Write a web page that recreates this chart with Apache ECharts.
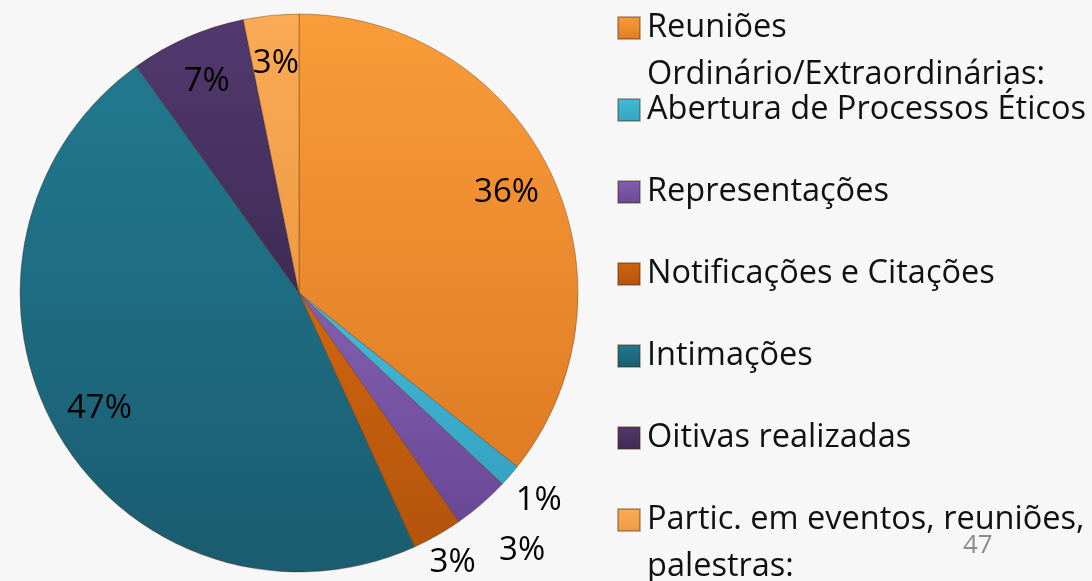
<!DOCTYPE html>
<html>
<head>
<meta charset="utf-8">
<title>Atividades</title>
<script src="https://cdn.jsdelivr.net/npm/echarts@6/dist/echarts.min.js"></script>
<style>
html,body{margin:0;padding:0;background:#f7f7f7;}
#main{width:1092px;height:581px;}
</style>
</head>
<body>
<div id="main"></div>
<script>
var categories = [
	'Reuniões\nOrdinário/Extraordinárias:',
	'Abertura de Processos Éticos',
	'Representações',
	'Notificações e Citações',
	'Intimações',
	'Oitivas realizadas',
	'Partic. em eventos, reuniões,\npalestras:'
];
var values = [35.7, 1.3, 3.3, 2.9, 46.9, 6.7, 3.2];
var topColors = ['#fa9c3a', '#44bbd9', '#8260b0', '#d0650f', '#21798f', '#52396e', '#fbab55'];
var bottomColors = ['#df7c24', '#35a3c2', '#6a4896', '#b3540b', '#1a5c70', '#3e2b56', '#ee9a45'];
var labelPlace = ['inside', 'outside', 'outside', 'outside', 'inside', 'inside', 'inside'];
var labelLen = [0, 38, 62, 31, 0, 0, 0];
var pageNumber = '47';

var chart = echarts.init(document.getElementById('main'));
var FONT = '"Open Sans", "Noto Sans", sans-serif';
var cx = 299, cy = 293, R = 279;

function grad(i){
	return new echarts.graphic.LinearGradient(0, 0, 0, 1, [
		{offset: 0, color: topColors[i]},
		{offset: 1, color: bottomColors[i]}
	]);
}

var pieData = categories.map(function(n, i){
	return {name: n, value: values[i], itemStyle: {color: grad(i)}};
});
var labelData = categories.map(function(n, i){
	return {
		name: n, value: values[i],
		label: {position: labelPlace[i]},
		labelLine: {show: false, length: labelLen[i], length2: 0}
	};
});

// one legend per entry so the wrapped names keep the slide spacing
var legends = categories.map(function(n, i){
	var twoLines = n.indexOf('\n') >= 0;
	var h = twoLines ? 47 * 3 : 47;
	return {
		data: [n],
		orient: 'vertical',
		left: 617,
		top: 28 + i * 82 - h / 2,
		padding: 0,
		itemWidth: 22,
		itemHeight: 22,
		itemGap: 0,
		icon: 'rect',
		selectedMode: false,
		// blank first line keeps the icon beside the first text line
		formatter: function(name){
			return name.indexOf('\n') >= 0 ? '\n' + name : name;
		},
		textStyle: {
			fontFamily: FONT,
			fontSize: 32.5,
			color: '#111',
			lineHeight: 47,
			padding: [0, 0, 0, 2]
		}
	};
});

chart.setOption({
	backgroundColor: '#f7f7f7',
	animation: false,
	legend: legends,
	graphic: [{
		type: 'text',
		left: 963,
		top: 533,
		style: {text: pageNumber, fontSize: 26, fill: '#8c8c8c', fontFamily: FONT}
	}],
	series: [
		{
			type: 'pie',
			center: [cx, cy],
			radius: R,
			startAngle: 90,
			silent: true,
			label: {show: false},
			labelLine: {show: false},
			itemStyle: {borderColor: 'rgba(70,40,10,0.35)', borderWidth: 1},
			data: pieData
		},
		{
			type: 'pie',
			center: [cx, cy],
			radius: [176, R],
			startAngle: 90,
			silent: true,
			avoidLabelOverlap: false,
			percentPrecision: 0,
			itemStyle: {color: 'rgba(0,0,0,0)', borderWidth: 0},
			label: {
				show: true,
				formatter: '{d}%',
				fontFamily: FONT,
				fontSize: 33,
				color: '#000',
				distanceToLabelLine: 0
			},
			labelLayout: function(p){
				return labelPlace[p.dataIndex] === 'outside' ? {align: 'center'} : {};
			},
			data: labelData
		}
	]
});

window.onresize = function(){
	chart.resize();
};
</script>
</body>
</html>
